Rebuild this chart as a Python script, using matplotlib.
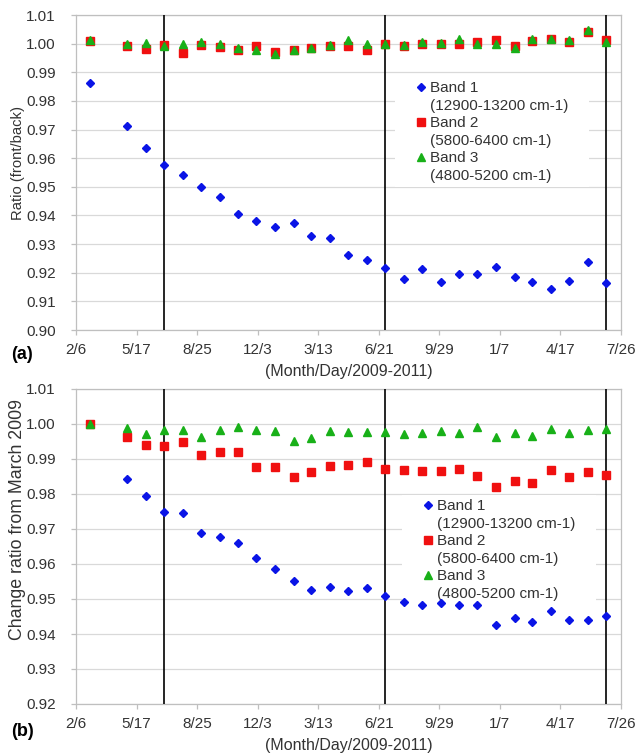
import numpy as np
import pandas as pd
import matplotlib
matplotlib.use('Agg')
import matplotlib.pyplot as plt
from matplotlib.lines import Line2D
from matplotlib.path import Path

plt.rcParams['font.family'] = ['Liberation Sans', 'DejaVu Sans']

# measurement months (first of month), March 2009 - July 2011
months = ['2009-03-01', '2009-05-01', '2009-06-01', '2009-07-01', '2009-08-01',
          '2009-09-01', '2009-10-01', '2009-11-01', '2009-12-01', '2010-01-01',
          '2010-02-01', '2010-03-01', '2010-04-01', '2010-05-01', '2010-06-01',
          '2010-07-01', '2010-08-01', '2010-09-01', '2010-10-01', '2010-11-01',
          '2010-12-01', '2011-01-01', '2011-02-01', '2011-03-01', '2011-04-01',
          '2011-05-01', '2011-06-01', '2011-07-01']
dates = pd.to_datetime(months)

# fiscal year boundaries
year_marks = pd.to_datetime(['2009-07-01', '2010-07-01', '2011-07-01'])

tick_dates = pd.to_datetime(['2009-02-06', '2009-05-17', '2009-08-25', '2009-12-03',
                             '2010-03-13', '2010-06-21', '2010-09-29', '2011-01-07',
                             '2011-04-17', '2011-07-26'])
tick_labels = ['2/6', '5/17', '8/25', '12/3', '3/13', '6/21', '9/29', '1/7', '4/17', '7/26']

# (a) front/back ratio
ratio_b1 = [0.9862, 0.9713, 0.9635, 0.9577, 0.9541, 0.9499, 0.9465, 0.9406, 0.9381, 0.9359,
            0.9374, 0.9330, 0.9322, 0.9263, 0.9245, 0.9217, 0.9177, 0.9213, 0.9169, 0.9197,
            0.9197, 0.9219, 0.9184, 0.9166, 0.9143, 0.9171, 0.9238, 0.9165]
ratio_b2 = [1.0009, 0.9992, 0.9980, 0.9994, 0.9969, 0.9994, 0.9988, 0.9979, 0.9992, 0.9971,
            0.9977, 0.9985, 0.9992, 0.9992, 0.9979, 1.0000, 0.9993, 0.9998, 1.0000, 0.9998,
            1.0005, 1.0012, 0.9992, 1.0009, 1.0015, 1.0005, 1.0040, 1.0012]
ratio_b3 = [1.0012, 0.9999, 1.0002, 0.9992, 0.9997, 1.0006, 0.9997, 0.9986, 0.9979, 0.9963,
            0.9977, 0.9985, 0.9994, 1.0012, 1.0000, 0.9998, 0.9995, 1.0007, 1.0003, 1.0016,
            0.9998, 0.9997, 0.9984, 1.0017, 1.0016, 1.0012, 1.0049, 1.0007]

# (b) change ratio from March 2009
change_b1 = [1.0000, 0.9842, 0.9793, 0.9748, 0.9746, 0.9688, 0.9676, 0.9659, 0.9617, 0.9585,
             0.9552, 0.9527, 0.9535, 0.9523, 0.9532, 0.9509, 0.9492, 0.9482, 0.9488, 0.9482,
             0.9482, 0.9427, 0.9447, 0.9435, 0.9466, 0.9439, 0.9439, 0.9451]
change_b2 = [1.0000, 0.9964, 0.9941, 0.9938, 0.9949, 0.9910, 0.9919, 0.9920, 0.9877, 0.9877,
             0.9848, 0.9862, 0.9881, 0.9884, 0.9891, 0.9870, 0.9868, 0.9866, 0.9866, 0.9872,
             0.9850, 0.9819, 0.9838, 0.9830, 0.9869, 0.9848, 0.9862, 0.9853]
change_b3 = [1.0000, 0.9988, 0.9971, 0.9983, 0.9983, 0.9962, 0.9982, 0.9990, 0.9983, 0.9979,
             0.9952, 0.9959, 0.9980, 0.9978, 0.9976, 0.9976, 0.9970, 0.9973, 0.9981, 0.9973,
             0.9990, 0.9964, 0.9973, 0.9967, 0.9985, 0.9973, 0.9983, 0.9986]

band_names = ['Band 1', 'Band 2', 'Band 3']
band_ranges = ['(12900-13200 cm-1)', '(5800-6400 cm-1)', '(4800-5200 cm-1)']

colors = ['#0a14e6', '#f01010', '#18b018']
markers = ['D', 's', '^']
msizes = [4.3, 5.8, 6.3]
leg_msizes = [4.0, 5.3, 5.3]
grey = '#bfbfbf'
txt = '#333333'


def legend_box(x0, y0, width, height, mutation_size):
    # legend background: padded more on the sides than top/bottom
    px = 1.05 * mutation_size
    return Path([(x0 - px, y0), (x0 + width + px, y0), (x0 + width + px, y0 + height),
                 (x0 - px, y0 + height), (x0 - px, y0)], closed=True)


def draw_panel(ax, series, ylim, leg_anchor):
    for vals, c, m, ms in zip(series, colors, markers, msizes):
        ax.plot(dates, vals, linestyle='none', marker=m, ms=ms, color=c, mec=c, zorder=4)
    for d in year_marks:
        ax.axvline(d, color='black', lw=1.2, zorder=3)

    ax.set_xlim(tick_dates[0], tick_dates[-1])
    ax.set_xticks(tick_dates)
    ax.set_xticklabels(tick_labels)
    ax.set_ylim(ylim)
    yt = np.round(np.arange(ylim[0], ylim[1] + 0.001, 0.01), 2)
    ax.set_yticks(yt)
    ax.set_yticklabels(['%.2f' % v for v in yt])

    ax.grid(axis='y', color='#d9d9d9', lw=0.9)
    ax.set_axisbelow(True)
    for s in ax.spines.values():
        s.set_color(grey)
        s.set_linewidth(0.9)
    ax.tick_params(length=3.6, width=0.9, color=grey, labelcolor=txt, labelsize=11)
    ax.tick_params(axis='x', pad=6)
    ax.tick_params(axis='y', pad=11)
    ax.set_xlabel('(Month/Day/2009-2011)', fontsize=11.5, color=txt, labelpad=5)

    # two text lines per band, marker only on the first
    handles, labels = [], []
    for c, m, ms, name, rng in zip(colors, markers, leg_msizes, band_names, band_ranges):
        handles.append(Line2D([], [], linestyle='none', marker=m, ms=ms, color=c))
        labels.append(name)
        handles.append(Line2D([], [], linestyle='none'))
        labels.append(rng)
    leg = ax.legend(handles, labels, loc='upper left', bbox_to_anchor=leg_anchor,
                    borderaxespad=0, borderpad=0.25, handlelength=0.75, handletextpad=0.25,
                    labelspacing=0.23, fontsize=11, frameon=True, fancybox=False,
                    facecolor='white', edgecolor='none', framealpha=1)
    for t in leg.get_texts():
        t.set_color(txt)
    leg.get_frame().set_boxstyle(legend_box)
    # legend hides the gridlines but not the data points
    leg.set_zorder(3.5)


fig = plt.figure(figsize=(6.38, 7.55), dpi=100)
ax1 = fig.add_axes([76 / 638, 1 - 330 / 755, 545 / 638, 315 / 755])
ax2 = fig.add_axes([76 / 638, 1 - 704 / 755, 545 / 638, 315 / 755])

draw_panel(ax1, [ratio_b1, ratio_b2, ratio_b3], (0.90, 1.01), (0.615, 0.802))
draw_panel(ax2, [change_b1, change_b2, change_b3], (0.92, 1.01), (0.628, 0.662))

fig.text(18 / 638, 1 - 163 / 755, 'Ratio (front/back)', rotation=90,
         ha='center', va='center', fontsize=10.6, color=txt)
fig.text(18 / 638, 1 - 520 / 755, 'Change ratio from March 2009', rotation=90,
         ha='center', va='center', fontsize=12.8, color=txt)
fig.text(22 / 638, 1 - 355 / 755, '(a)', ha='center', va='center',
         fontsize=13, fontweight='bold', color='black')
fig.text(23 / 638, 1 - 731 / 755, '(b)', ha='center', va='center',
         fontsize=13, fontweight='bold', color='black')

fig.savefig('out.png', dpi=100)
